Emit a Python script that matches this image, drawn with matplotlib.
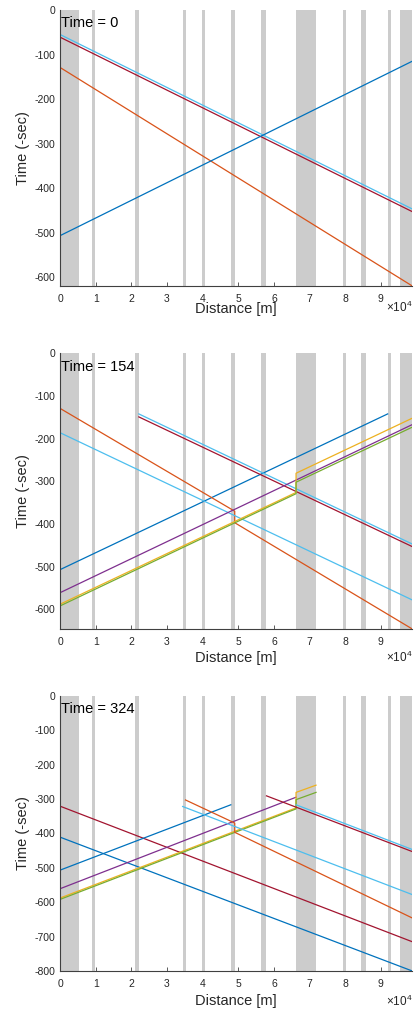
import numpy as np
import matplotlib.pyplot as plt

plt.rcParams['font.family'] = ['Liberation Sans', 'DejaVu Sans']
plt.rcParams['axes.unicode_minus'] = False
plt.rcParams['mathtext.default'] = 'regular'

# line colours (MATLAB default order)
C = {
    'blue': '#0072BD', 'orange': '#D95319', 'yellow': '#EDB120',
    'purple': '#7E2F8E', 'green': '#77AC30', 'lblue': '#4DBEEE',
    'red': '#A2142F',
}

# station / block zones along the line [m]
zone_start = [0, 9000, 21000, 34400, 39900, 47900, 56500, 66200, 79300, 84300, 91900, 95300]
zone_end = [5400, 9800, 22100, 35200, 40600, 49100, 57900, 71800, 80100, 85700, 92800, 98800]

x_max = 98800
x_ticks = np.arange(0, 100000, 10000)
x_tick_labels = [str(i) for i in range(10)]

snap_times = [0, 154, 324]
y_bottom = [-620, -646, -800]

# train paths per snapshot: (colour, distance [m], time [-sec])
paths_t0 = [
    ('lblue', [0, 98800], [-55, -447]),
    ('red', [0, 98800], [-61, -453]),
    ('orange', [0, 98800], [-129, -620]),
    ('blue', [0, 98800], [-507, -115]),
]
paths_t154 = [
    ('blue', [0, 91900], [-507, -142]),
    ('orange', [0, 49000, 49000, 98800], [-129, -370, -397, -646]),
    ('lblue', [0, 98800], [-186, -578]),
    ('lblue', [22100, 98800], [-142, -447]),
    ('red', [22100, 98800], [-149, -453]),
    ('purple', [0, 98800], [-561, -167]),
    ('yellow', [0, 66200, 66200, 98800], [-588, -326, -281, -152]),
    ('green', [0, 66200, 66200, 98800], [-592, -329, -302, -173]),
]
paths_t324 = [
    ('red', [0, 98800], [-321, -715]),
    ('blue', [0, 98800], [-411, -800]),
    ('blue', [0, 47900], [-507, -317]),
    ('purple', [0, 66200], [-561, -295]),
    ('yellow', [0, 66200, 66200, 71800], [-588, -326, -281, -260]),
    ('green', [0, 66200, 66200, 71800], [-592, -329, -302, -281]),
    ('orange', [35200, 49000, 49000, 98800], [-303, -370, -397, -646]),
    ('lblue', [34400, 98800], [-322, -578]),
    ('lblue', [66200, 98800], [-317, -447]),
    ('red', [57900, 98800], [-291, -453]),
]
all_paths = [paths_t0, paths_t154, paths_t324]

W, H = 415, 1014
fig = plt.figure(figsize=(W / 100, H / 100), dpi=100)

# axes boxes in pixels: (top, bottom)
boxes = [(10, 286), (353.3, 629), (695.7, 971)]
left, right = 60, 412.3
# distance of x label centre / exponent baseline below each axes [px]
xlabel_off = [23.5, 29, 30.5]
expo_off = [25.5, 33, 35]

axis_col = '#404040'
for k in range(3):
    top, bot = boxes[k]
    h = bot - top
    ax = fig.add_axes([left / W, 1 - bot / H, (right - left) / W, h / H])
    ax.set_axisbelow(True)

    for a, b in zip(zone_start, zone_end):
        ax.axvspan(a, b, color='#cccccc', lw=0, zorder=1)

    for col, xs, ys in all_paths[k]:
        ax.plot(xs, ys, color=C[col], lw=0.9, zorder=2)

    ax.set_xlim(0, x_max)
    ax.set_ylim(y_bottom[k], 0)
    ax.set_xticks(x_ticks)
    ax.set_xticklabels(x_tick_labels)
    yt = np.arange(0, y_bottom[k] - 1, -100)
    ax.set_yticks(yt)
    ax.set_yticklabels(['%d' % v for v in yt])

    for s in ['top', 'right']:
        ax.spines[s].set_visible(False)
    for s in ['left', 'bottom']:
        ax.spines[s].set_color(axis_col)
        ax.spines[s].set_linewidth(0.8)
    ax.tick_params(direction='in', length=3, width=0.6, color=axis_col,
                   labelsize=7.5, labelcolor='#262626')
    ax.tick_params(axis='x', pad=6)
    ax.tick_params(axis='y', pad=3.5)

    # labels placed by pixel offset from the axes box
    ax.set_xlabel('Distance [m]', fontsize=10.5, color='#262626', va='center')
    ax.xaxis.set_label_coords(0.5, -xlabel_off[k] / h)
    ax.set_ylabel('Time (-sec)', fontsize=10.5, color='#262626', va='center')
    ax.yaxis.set_label_coords((22.7 - left) / (right - left), 0.5)
    ax.text(1.0, -expo_off[k] / h, r'$\times10^{4}$', transform=ax.transAxes,
            ha='right', va='baseline', fontsize=8.5, color='#262626')

    ax.text(0.003, 0.952, 'Time = %d' % snap_times[k], transform=ax.transAxes,
            ha='left', va='center', fontsize=10.5, color='black')

fig.savefig('out.png', dpi=100)
